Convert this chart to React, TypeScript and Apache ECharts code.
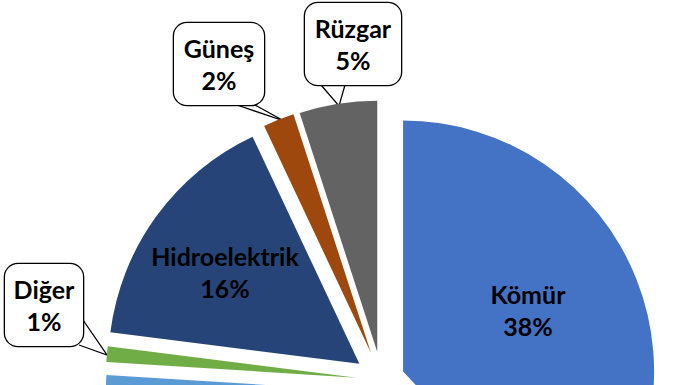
import React, { useEffect, useRef } from 'react';
import * as echarts from 'echarts';

// ---- data (clockwise from 12 o'clock) ----
const categories = ['Kömür', 'Doğalgaz', 'Jeotermal', 'Diğer', 'Hidroelektrik', 'Güneş', 'Rüzgar'];
const values = [38, 23, 15, 1, 16, 2, 5];
const colors = ['#4472C4', '#ED7D31', '#5B9BD5', '#70AD47', '#264478', '#9E480E', '#636363'];

// ---- layout / style (not data) ----
const PIE_CENTER = [381.7, 380];
const PIE_RADIUS = 251;
const explodeOffset: Record<string, number> = {
  'Kömür': 23, 'Doğalgaz': 27, 'Jeotermal': 27, 'Diğer': 25,
  'Hidroelektrik': 27.6, 'Güneş': 29, 'Rüzgar': 28.6,
};
const callouts: Record<string, { x: number; y: number; w: number; tail: number[][] }> = {
  'Güneş': { x: 219, y: 64, w: 90, tail: [[237, 105], [284, 121], [255, 105]] },
  'Rüzgar': { x: 353, y: 44, w: 96, tail: [[321, 85], [339, 106], [345, 85]] },
  'Diğer': { x: 44, y: 305, w: 78, tail: [[83, 320], [107, 355], [79, 345]] },
};
const insideLabels: Record<string, number[]> = {
  'Kömür': [528, 310],
  'Hidroelektrik': [225, 272],
};

const FONT = 'Lato, "Open Sans", sans-serif';
const FONT_SIZE = 25;
const LINE_HEIGHT = 32;

function buildOption() {
  const total = values.reduce((a, b) => a + b, 0);
  let cum = 0;
  const series: any[] = [];
  values.forEach((v, i) => {
    const start = (cum / total) * 360;
    cum += v;
    const end = (cum / total) * 360;
    const mid = ((start + end) / 2) * Math.PI / 180;
    const off = explodeOffset[categories[i]] || 0;
    const cx = PIE_CENTER[0] + off * Math.sin(mid);
    const cy = PIE_CENTER[1] - off * Math.cos(mid);
    const name = categories[i];
    const isCallout = !!callouts[name];
    const isInside = !!insideLabels[name];
    series.push({
      type: 'pie',
      center: [cx, cy],
      radius: PIE_RADIUS,
      startAngle: 90,
      clockwise: true,
      silent: true,
      avoidLabelOverlap: false,
      percentPrecision: 0,
      minShowLabelAngle: 0,
      itemStyle: { borderWidth: 0 },
      emphasis: { disabled: true },
      data: categories.map((n, j) => {
        const visible = j === i;
        const item: any = {
          name: n,
          value: values[j],
          itemStyle: { color: visible ? colors[j] : 'rgba(0,0,0,0)', borderWidth: 0 },
          label: { show: visible && (isCallout || isInside) },
          labelLine: { show: visible && isCallout },
        };
        if (visible && isCallout) {
          item.label = {
            show: true,
            position: 'outside',
            formatter: '{b}\n{d}%',
            backgroundColor: '#ffffff',
            borderColor: '#000000',
            borderWidth: 1.3,
            borderRadius: 13,
            padding: [9, 0],
            width: callouts[n].w,
            align: 'center',
            color: '#000',
            fontFamily: FONT,
            fontWeight: 'bold',
            fontSize: FONT_SIZE,
            lineHeight: LINE_HEIGHT,
          };
          item.labelLine = { show: true, lineStyle: { color: '#000', width: 1.3 } };
        }
        if (visible && isInside) {
          item.label = {
            show: true,
            position: 'inside',
            formatter: '{b}\n{d}%',
            align: 'center',
            color: '#000',
            fontFamily: FONT,
            fontWeight: 'bold',
            fontSize: FONT_SIZE,
            lineHeight: LINE_HEIGHT,
          };
        }
        return item;
      }),
      labelLayout: (params: any) => {
        const n = categories[params.dataIndex];
        if (params.dataIndex !== i) return {};
        if (callouts[n]) {
          return {
            x: callouts[n].x,
            y: callouts[n].y,
            align: 'center',
            verticalAlign: 'middle',
            labelLinePoints: callouts[n].tail,
          };
        }
        if (insideLabels[n]) {
          return { x: insideLabels[n][0], y: insideLabels[n][1], align: 'center', verticalAlign: 'middle' };
        }
        return {};
      },
    });
  });
  return { animation: false, backgroundColor: '#ffffff', series };
}

export default function App() {
  const ref = useRef<HTMLDivElement>(null);
  useEffect(() => {
    if (!ref.current) return;
    const chart = echarts.init(ref.current, null, { renderer: 'svg' });
    chart.setOption(buildOption() as any);
    return () => chart.dispose();
  }, []);
  return (
    <div
      ref={ref}
      style={{ position: 'fixed', left: 0, top: 0, width: 696, height: 385, background: '#fff' }}
    />
  );
}
